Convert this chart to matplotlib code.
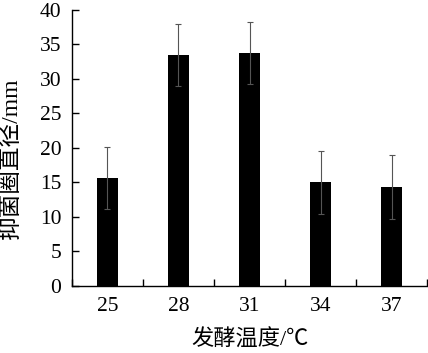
import matplotlib
matplotlib.use("Agg")
import matplotlib.pyplot as plt
import numpy as np

categories = ["25", "28", "31", "34", "37"]
values = [15.6, 33.4, 33.7, 15.0, 14.3]
errors = [4.5, 4.5, 4.5, 4.6, 4.6]
yticks = [0, 5, 10, 15, 20, 25, 30, 35, 40]

serif = ["Liberation Serif", "Noto Sans CJK SC"]

fig = plt.figure(figsize=(4.28, 3.53), dpi=100)
ax = fig.add_axes([0.168, 0.19, 0.83, 0.782])

pos = np.arange(len(categories)) + 0.5
ax.bar(pos, values, width=0.3, color="black", zorder=2)
ax.errorbar(pos, values, yerr=errors, fmt="none", ecolor="#555555",
            elinewidth=0.8, capsize=2, capthick=0.8, zorder=3)

ax.set_xlim(0, len(categories))
ax.set_ylim(0, 40)
ax.set_yticks(yticks)
ax.set_yticklabels([str(t) for t in yticks], family=serif, fontsize=15.5)
ax.set_xticks(pos)
ax.set_xticklabels(categories, family=serif, fontsize=15.5)
ax.set_xticks(np.arange(len(categories) + 1), minor=True)
ax.tick_params(axis="x", which="major", length=0, pad=8)
ax.tick_params(axis="x", which="minor", direction="in", length=5, width=1)
ax.tick_params(axis="y", direction="in", length=5, width=1, pad=7.5)

for s in ["top", "right"]:
    ax.spines[s].set_visible(False)
for s in ["left", "bottom"]:
    ax.spines[s].set_linewidth(1)

ax.set_ylabel("抑菌圈直径/mm", family=serif, fontsize=17)
ax.yaxis.set_label_coords(-0.14, 0.464)
ax.set_xlabel("发酵温度/℃", family=serif, fontsize=16, labelpad=10)

fig.savefig("out.png", dpi=100)
